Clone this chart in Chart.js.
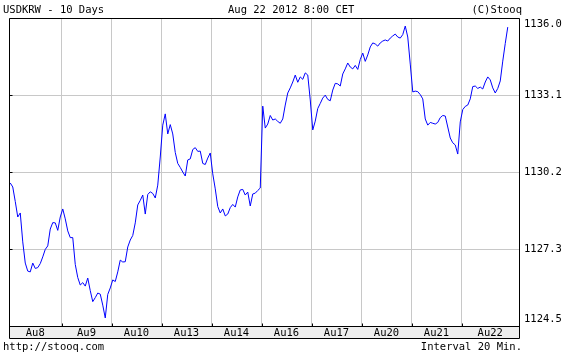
<!DOCTYPE html>
<html><head><meta charset="utf-8">
<script src="https://cdn.jsdelivr.net/npm/chart.js@4/dist/chart.umd.min.js"></script>
<style>html,body{margin:0;padding:0;background:#fff;}canvas{display:block;}</style>
</head><body>
<canvas id="c" width="564" height="356"></canvas>
<script>
// ---- data ----
const dayLabels = ['Au8','Au9','Au10','Au13','Au14','Au16','Au17','Au20','Au21','Au22'];
const barsPerDay = [21,20,20,20,20,20,20,20,20,23];
const closes = [
1129.84,1129.69,1129.15,1128.57,1128.72,1127.64,1126.85,1126.55,1126.52,1126.85,
1126.65,1126.68,1126.83,1127.08,1127.36,1127.49,1128.12,1128.36,1128.35,1128.07,
1128.57,1128.87,1128.50,1128.05,1127.80,1127.80,1126.80,1126.31,1126.03,1126.12,
1125.99,1126.29,1125.82,1125.41,1125.56,1125.73,1125.69,1125.28,1124.80,1125.68,
1125.92,1126.22,1126.16,1126.52,1126.96,1126.89,1126.90,1127.45,1127.71,1127.88,
1128.35,1129.02,1129.19,1129.39,1128.68,1129.41,1129.51,1129.45,1129.28,1129.76,
1130.81,1132.00,1132.42,1131.67,1132.02,1131.67,1130.98,1130.57,1130.42,1130.25,
1130.10,1130.70,1130.74,1131.09,1131.16,1131.02,1131.03,1130.57,1130.53,1130.77,
1130.96,1130.18,1129.62,1128.96,1128.72,1128.87,1128.61,1128.68,1128.92,1129.04,
1128.94,1129.32,1129.58,1129.60,1129.39,1129.50,1128.98,1129.43,1129.46,1129.56,
1129.65,1132.71,1131.89,1132.04,1132.36,1132.19,1132.23,1132.14,1132.07,1132.23,
1132.75,1133.20,1133.39,1133.61,1133.87,1133.60,1133.80,1133.71,1133.95,1133.87,
1132.94,1131.82,1132.15,1132.62,1132.81,1133.01,1133.12,1132.96,1132.91,1133.31,
1133.56,1133.54,1133.46,1133.91,1134.10,1134.32,1134.17,1134.10,1134.23,1134.08,
1134.45,1134.69,1134.38,1134.62,1134.92,1135.07,1135.03,1134.95,1135.07,1135.14,
1135.18,1135.14,1135.25,1135.33,1135.40,1135.29,1135.25,1135.38,1135.70,1135.29,
1134.28,1133.24,1133.27,1133.25,1133.14,1132.98,1132.23,1132.00,1132.10,1132.07,
1132.04,1132.10,1132.28,1132.36,1132.34,1131.93,1131.52,1131.34,1131.26,1130.92,
1132.12,1132.58,1132.70,1132.75,1132.98,1133.44,1133.46,1133.37,1133.42,1133.35,
1133.61,1133.80,1133.69,1133.39,1133.20,1133.37,1133.65,1134.39,1135.05,1135.66
];
const yMin = 1124.5;
const yMax = 1136.0;
const yTickValues = [1124.5, 1127.375, 1130.25, 1133.125, 1136.0];
const yTickLabels = ['1124.5','1127.3','1130.2','1133.1','1136.0'];
const headerLeft = 'USDKRW - 10 Days';
const headerCenter = 'Aug 22 2012 8:00 CET';
const headerRight = '(C)Stooq';
const footerLeft = 'http://stooq.com';
const footerRight = 'Interval 20 Min.';

// ---- derived ----
const bounds = [0];
barsPerDay.forEach(n => bounds.push(bounds[bounds.length - 1] + n));
const total = bounds[bounds.length - 1];
const mids = dayLabels.map((_, i) => (bounds[i] + bounds[i + 1]) / 2);
const points = closes.map((v, i) => ({ x: i + 0.5, y: v }));

const FONTFAM = "'DejaVu Sans Mono', monospace";
const FONT = { family: FONTFAM, size: 10.5 };

const decor = {
  id: 'decor',
  beforeDraw(chart) {
    const c = chart.ctx, a = chart.chartArea;
    c.save();
    c.fillStyle = '#eeeeee';
    c.fillRect(a.left, a.bottom, a.right - a.left, 12);
    c.restore();
  },
  afterDraw(chart) {
    const c = chart.ctx, a = chart.chartArea;
    const L = Math.round(a.left) + 0.5, R = Math.round(a.right) + 0.5;
    const T = Math.round(a.top) + 0.5, B = Math.round(a.bottom) + 0.5, S = B + 12;
    c.save();
    c.strokeStyle = '#000';
    c.lineWidth = 1;
    c.beginPath();
    c.moveTo(L, T); c.lineTo(R, T); c.lineTo(R, S); c.lineTo(L, S); c.closePath();
    c.moveTo(L, B); c.lineTo(R, B);
    // small tick marks
    const xs = chart.scales.xg;
    bounds.slice(1, -1).forEach(b => {
      const px = Math.round(xs.getPixelForValue(b)) + 0.5;
      c.moveTo(px, B); c.lineTo(px, B - 3);
    });
    const ys = chart.scales.y;
    yTickValues.slice(1, -1).forEach(v => {
      const py = Math.round(ys.getPixelForValue(v)) + 0.5;
      c.moveTo(L, py); c.lineTo(L + 3, py);
    });
    c.stroke();
    c.fillStyle = '#000';
    c.font = '10.5px ' + FONTFAM;
    c.textBaseline = 'middle';
    c.textAlign = 'left';
    c.fillText(headerLeft, 3, 10);
    c.fillText(headerCenter, 228, 10);
    c.fillText(footerLeft, 3, 347);
    c.textAlign = 'right';
    c.fillText(headerRight, 522, 10);
    c.fillText(footerRight, 522, 347);
    c.restore();
  }
};

new Chart(document.getElementById('c'), {
  type: 'line',
  data: { datasets: [{
    data: points, borderColor: '#0000ff', borderWidth: 1, pointRadius: 0,
    tension: 0, fill: false, xAxisID: 'x', yAxisID: 'y'
  }] },
  options: {
    responsive: false, animation: false, devicePixelRatio: 1,
    layout: { padding: { left: 9, top: 18, right: 0, bottom: 0 } },
    plugins: { legend: { display: false }, tooltip: { enabled: false } },
    scales: {
      x: {
        type: 'linear', position: 'bottom', min: 0, max: total,
        afterBuildTicks: s => { s.ticks = mids.map(v => ({ value: v })); },
        ticks: { callback: (v, i) => dayLabels[i], font: FONT, color: '#000', padding: 1, maxRotation: 0, autoSkip: false },
        grid: { display: false, drawTicks: false },
        border: { display: false },
        afterFit: s => { s.height = 30; }
      },
      xg: {
        type: 'linear', position: 'top', min: 0, max: total,
        afterBuildTicks: s => { s.ticks = bounds.map(v => ({ value: v })); },
        ticks: { display: false },
        grid: { color: '#c8c8c8', drawTicks: false, lineWidth: 1 },
        border: { display: false },
        afterFit: s => { s.height = 0; }
      },
      y: {
        position: 'right', min: yMin, max: yMax,
        afterBuildTicks: s => { s.ticks = yTickValues.map(v => ({ value: v })); },
        ticks: {
          callback: (v, i) => i === 0 ? [yTickLabels[0], ''] : (i === yTickLabels.length - 1 ? ['', yTickLabels[i]] : yTickLabels[i]),
          font: FONT, color: '#000', padding: 5
        },
        grid: { color: '#c8c8c8', drawTicks: false },
        border: { display: false },
        afterFit: s => { s.width = 45; }
      }
    }
  },
  plugins: [decor]
});
</script>
</body></html>
